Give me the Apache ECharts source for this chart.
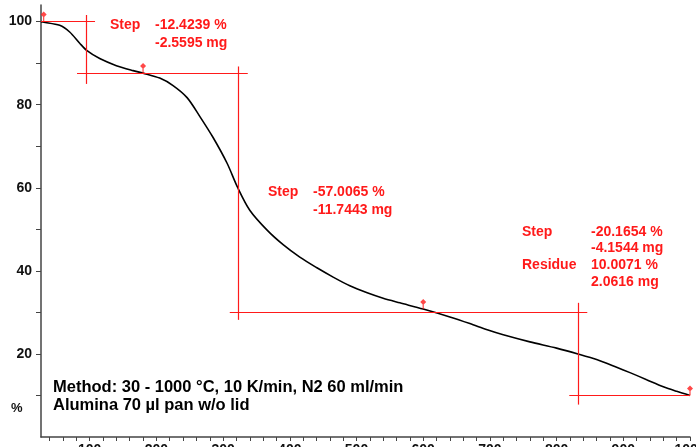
<!DOCTYPE html>
<html>
<head>
<meta charset="utf-8">
<script src="https://cdn.jsdelivr.net/npm/echarts@6/dist/echarts.min.js"></script>
<style>
  html, body { margin: 0; padding: 0; background: #fff; }
  #chart { width: 696px; height: 447px; }
</style>
</head>
<body>
<div id="chart"></div>
<script>
// temperature (°C) and mass (%)
const temps = [27, 30, 55, 70, 85, 96, 115, 140, 165, 180, 205, 225, 246, 265, 285, 306, 322, 340, 366, 390, 415, 440, 465, 490, 516, 540, 565, 600, 640, 670, 696, 720, 760, 800, 832, 861, 890, 910, 935, 960, 980, 1000];
const mass = [100.0, 99.9, 99.1, 97.5, 94.8, 93.0, 91.1, 89.4, 88.2, 87.6, 86.4, 84.6, 81.7, 77.2, 72.1, 65.9, 60.0, 54.6, 49.8, 46.3, 43.3, 40.8, 38.5, 36.4, 34.7, 33.4, 32.3, 30.8, 28.9, 27.3, 25.8, 24.6, 22.9, 21.4, 20.0, 18.6, 16.8, 15.5, 13.8, 12.1, 11.0, 10.0];

// step evaluation construction lines [[T1, m1], [T2, m2]]
const stepLines = [
  [[27, 100.2], [108, 100.2]],
  [[94.5, 101.6], [94.5, 85]],
  [[81, 87.5], [337, 87.5]],
  [[322.5, 89.2], [322.5, 28.2]],
  [[310, 30.1], [846, 30.1]],
  [[832, 32.3], [832, 7.8]],
  [[819, 10.0], [1000, 10.0]]
];
// step markers
const markers = [[31, 100.0], [180, 87.6], [600, 30.8], [1000, 10.0]];

const xTicks = [40, 60, 80, 100, 120, 140, 160, 180, 200, 220, 240, 260, 280, 300, 320, 340, 360, 380, 400, 420, 440, 460, 480, 500, 520, 540, 560, 580, 600, 620, 640, 660, 680, 700, 720, 740, 760, 780, 800, 820, 840, 860, 880, 900, 920, 940, 960, 980, 1000];
const xLabels = [100, 200, 300, 400, 500, 600, 700, 800, 900, 1000];
const yTicks = [10, 20, 30, 40, 50, 60, 70, 80, 90, 100];
const yLabels = [20, 40, 60, 80, 100];

const red = '#ff1a1a';
const font = '"Liberation Sans", Arial, sans-serif';

function redText(x, y, text) {
  return {
    type: 'text', x: x, y: y, silent: true,
    style: { text: text, fill: red, font: 'bold 14px ' + font, verticalAlign: 'middle' }
  };
}

const chart = echarts.init(document.getElementById('chart'));
chart.setOption({
  animation: false,
  grid: { left: 41, right: 6, top: 5, bottom: 10, containLabel: false, outerBoundsMode: 'none' },
  xAxis: {
    type: 'value', min: 27, max: 1000,
    axisLine: { show: true, lineStyle: { color: '#444', width: 1.5 } },
    axisTick: { show: true, length: 4, customValues: xTicks, lineStyle: { color: '#444' } },
    axisLabel: { customValues: xLabels, margin: 6, color: '#111', fontWeight: 'bold', fontSize: 14, fontFamily: font,
      formatter: v => String(v) },
    splitLine: { show: false }
  },
  yAxis: {
    type: 'value', min: 0, max: 104,
    axisLine: { show: true, lineStyle: { color: '#444', width: 1.5 } },
    axisTick: { show: true, length: 5, customValues: yTicks, lineStyle: { color: '#444' } },
    axisLabel: { customValues: yLabels, margin: 9, color: '#111', fontWeight: 'bold', fontSize: 14, fontFamily: font },
    splitLine: { show: false }
  },
  series: [
    {
      type: 'line',
      data: temps.map((t, i) => [t, mass[i]]),
      smooth: 0.3,
      showSymbol: false,
      lineStyle: { color: '#000', width: 1.6 },
      z: 3,
      markLine: {
        silent: true,
        symbol: 'none',
        label: { show: false },
        lineStyle: { color: red, width: 1.2, type: 'solid', opacity: 1 },
        data: stepLines.map(l => [{ coord: l[0] }, { coord: l[1] }])
      }
    },
    {
      type: 'scatter',
      data: markers,
      symbol: 'path://M0,0 L3,3 L0,6 L-3,3 Z M-0.6,5 L0.6,5 L0.6,10 L-0.6,10 Z',
      symbolSize: [6, 10],
      symbolOffset: [0, -5],
      itemStyle: { color: red },
      silent: true,
      z: 4
    }
  ],
  graphic: [
    redText(110, 25, 'Step'),
    redText(155, 25, '-12.4239 %'),
    redText(155, 43, '-2.5595 mg'),
    redText(268, 192, 'Step'),
    redText(313, 192, '-57.0065 %'),
    redText(313, 210, '-11.7443 mg'),
    redText(522, 232, 'Step'),
    redText(591, 232, '-20.1654 %'),
    redText(591, 248, '-4.1544 mg'),
    redText(522, 265, 'Residue'),
    redText(591, 265, '10.0071 %'),
    redText(591, 282, '2.0616 mg'),
    { type: 'text', x: 53, y: 387, silent: true,
      style: { text: 'Method: 30 - 1000 °C, 10 K/min, N2 60 ml/min', fill: '#000', font: 'bold 16.5px ' + font, verticalAlign: 'middle' } },
    { type: 'text', x: 53, y: 405.5, silent: true,
      style: { text: 'Alumina 70 µl pan w/o lid', fill: '#000', font: 'bold 16.5px ' + font, verticalAlign: 'middle' } },
    { type: 'text', x: 11, y: 408, silent: true,
      style: { text: '%', fill: '#111', font: 'bold 13px ' + font, verticalAlign: 'middle' } }
  ]
});
</script>
</body>
</html>
